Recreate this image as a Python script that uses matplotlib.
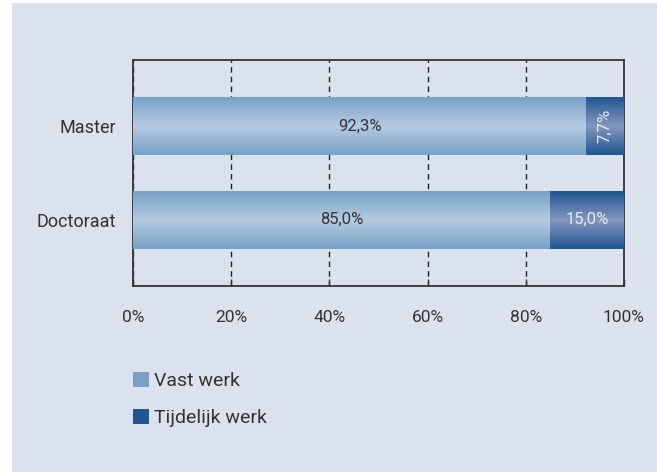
import numpy as np
import matplotlib.pyplot as plt
from matplotlib.patches import Rectangle, Patch
from matplotlib.colors import LinearSegmentedColormap

plt.rcParams['font.family'] = ['Roboto', 'DejaVu Sans']

categories = ['Doctoraat', 'Master']
vast = [85.0, 92.3]
tijdelijk = [15.0, 7.7]
vast_labels = ['85,0%', '92,3%']
tijd_labels = ['15,0%', '7,7%']
xticks = [0, 20, 40, 60, 80, 100]
xtick_labels = ['0%', '20%', '40%', '60%', '80%', '100%']

bg = '#dbe2ed'
txt = '#333333'
light_edge, light_mid = '#78a1c7', '#b6cbe2'
dark_edge, dark_mid = '#215690', '#8497bf'

fig = plt.figure(figsize=(6.57, 4.72), dpi=100)
fig.patch.set_facecolor('white')
fig.add_artist(Rectangle((12/657, 0), 1, (472-3)/472, transform=fig.transFigure,
                         fc=bg, ec='none', zorder=0))

ax = fig.add_axes([133/657, 1-286/472, (624-133)/657, (286-60)/472])
ax.set_facecolor(bg)

h = 0.62
b1 = ax.barh(categories, vast, height=h, color=light_edge, zorder=2)
b2 = ax.barh(categories, tijdelijk, left=vast, height=h, color=dark_edge, zorder=2)

# vertical gradient: dark at top/bottom, light in the middle
def shade(bars, c_edge, c_mid):
    cmap = LinearSegmentedColormap.from_list('g', [c_edge, c_mid, c_edge])
    grad = np.linspace(0, 1, 100).reshape(-1, 1)
    for p in bars:
        x0, y0 = p.get_x(), p.get_y()
        im = ax.imshow(grad, cmap=cmap, aspect='auto', zorder=3,
                       extent=[x0, x0 + p.get_width(), y0, y0 + p.get_height()])
        im.set_clip_path(p)

shade(b1, light_edge, light_mid)
shade(b2, dark_edge, dark_mid)

for i in range(len(categories)):
    ax.text(vast[i] / 2, i, vast_labels[i], ha='center', va='center',
            fontsize=12, color=txt, zorder=4)
    rot = 90 if tijdelijk[i] < 10 else 0
    ax.text(vast[i] + tijdelijk[i] / 2, i, tijd_labels[i], ha='center', va='center',
            fontsize=12, color='#e4eaf3', rotation=rot, zorder=4)

ax.set_xlim(0, 100)
ax.set_ylim(-0.71, 1.71)
ax.set_xticks(xticks)
ax.set_xticklabels(xtick_labels, fontsize=12.5, color=txt)
ax.tick_params(axis='x', direction='in', length=5, width=1, color=txt, pad=17)
ax.tick_params(axis='y', length=0, pad=12, labelsize=13, labelcolor=txt)
ax.xaxis.grid(True, linestyle=(0, (4, 3)), color='#222222', linewidth=1, zorder=1)
ax.set_axisbelow(True)
for s in ax.spines.values():
    s.set_color('#333333')
    s.set_linewidth(1.3)

handles = [Patch(fc=light_edge, ec='none', label='Vast werk'),
           Patch(fc=dark_edge, ec='none', label='Tijdelijk werk')]
leg = fig.legend(handles=handles, loc='upper left', bbox_to_anchor=(133/657, 1-372/472),
                 frameon=False, fontsize=14, handlelength=0.8, handleheight=0.8,
                 handletextpad=0.3, labelspacing=0.95, labelcolor=txt,
                 borderpad=0, borderaxespad=0)

fig.savefig('out.png', dpi=100, facecolor=fig.get_facecolor())
